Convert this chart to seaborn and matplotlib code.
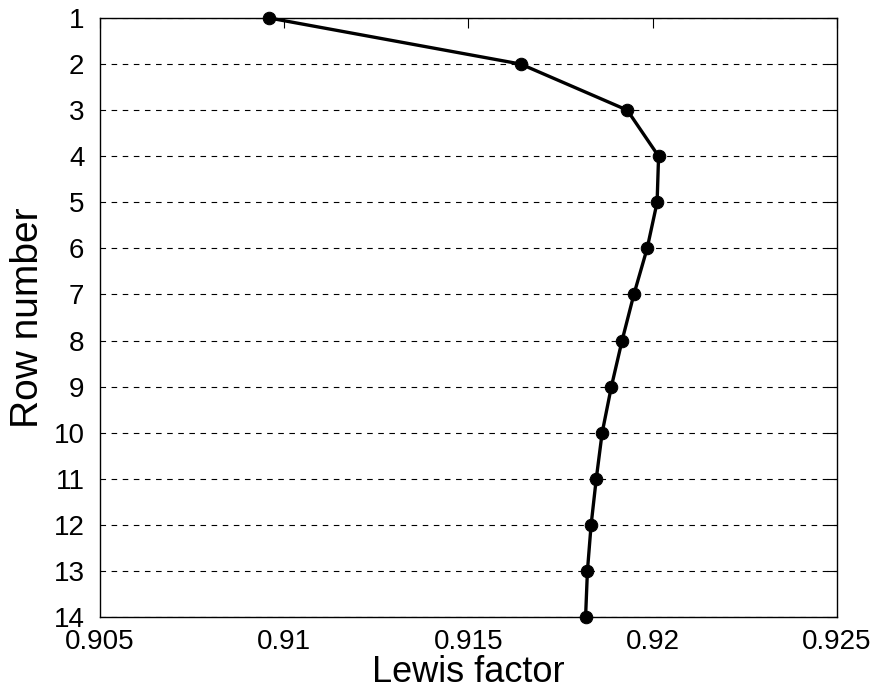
from matplotlib import pyplot as plt
import seaborn as sns
import pandas as pd

# values
rows = [1, 2, 3, 4, 5, 6, 7, 8, 9, 10, 11, 12, 13, 14]
lewis = [0.9096, 0.91642, 0.91931, 0.92016, 0.92012, 0.91985, 0.91949,
         0.91917, 0.91888, 0.91863, 0.91847, 0.91833, 0.91823, 0.91818]
xticks = [0.905, 0.91, 0.915, 0.92, 0.925]
xticklabels = ["0.905", "0.91", "0.915", "0.92", "0.925"]

df = pd.DataFrame({"Lewis factor": lewis, "Row number": rows})

sns.set_style("white")
plt.rcParams['font.family'] = ['Liberation Sans', 'DejaVu Sans']
plt.rcParams['text.color'] = 'black'
plt.rcParams['axes.labelcolor'] = 'black'

fig = plt.figure(figsize=(8.82, 7.0), dpi=100)
ax = fig.add_axes([0.113, 0.1186, 0.836, 0.8557])

sns.lineplot(data=df, x="Lewis factor", y="Row number", sort=False,
             color="black", linewidth=2.4, marker="o", markersize=9,
             markeredgecolor="black", clip_on=False, ax=ax)

ax.set_xlim(0.905, 0.925)
ax.set_ylim(14, 1)
ax.set_xticks(xticks)
ax.set_xticklabels(xticklabels)
ax.set_yticks(rows)
ax.yaxis.grid(True, linestyle=(0, (5, 5)), color="black", linewidth=0.8)
ax.xaxis.grid(False)

ax.tick_params(direction="in", length=7, width=0.8, top=True, right=True,
               labelsize=20, colors="black")
ax.tick_params(axis="x", pad=9)
ax.tick_params(axis="y", pad=11)
for s in ax.spines.values():
    s.set_color("black")
    s.set_linewidth(1.0)

ax.set_xlabel("Lewis factor", fontsize=26, labelpad=0, color="black")
ax.set_ylabel("Row number", fontsize=28, labelpad=5, color="black")

fig.savefig("out.png", dpi=100)
